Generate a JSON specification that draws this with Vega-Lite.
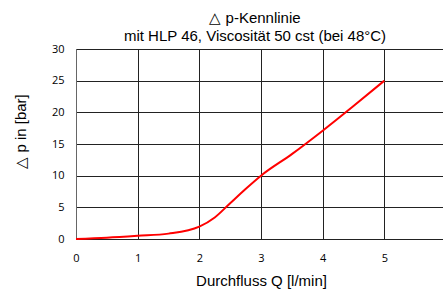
{
  "$schema": "https://vega.github.io/schema/vega-lite/v6.json",
  "autosize": "none",
  "width": 370,
  "height": 190,
  "padding": {"left": 76, "top": 49, "right": 10, "bottom": 51},
  "background": "white",
  "title": {
    "text": "△ p-Kennlinie",
    "subtitle": "mit HLP 46, Viscosität 50 cst (bei 48°C)",
    "font": "Liberation Sans",
    "fontSize": 15,
    "fontWeight": "normal",
    "color": "#000",
    "subtitleFont": "Liberation Sans",
    "subtitleFontSize": 15,
    "subtitleColor": "#000",
    "subtitlePadding": 3,
    "offset": -1,
    "dx": -6,
    "anchor": "middle"
  },
  "data": {
    "values": [
      {"q": 0, "dp": 0},
      {"q": 0.5, "dp": 0.2},
      {"q": 1, "dp": 0.5},
      {"q": 1.5, "dp": 0.85},
      {"q": 2, "dp": 1.95},
      {"q": 2.25, "dp": 3.4},
      {"q": 2.5, "dp": 5.65},
      {"q": 2.75, "dp": 7.9},
      {"q": 3, "dp": 10},
      {"q": 3.5, "dp": 13.4},
      {"q": 4, "dp": 17.1},
      {"q": 4.5, "dp": 21},
      {"q": 5, "dp": 25}
    ]
  },
  "mark": {"type": "line", "color": "#ff0000", "strokeWidth": 2, "interpolate": "monotone", "clip": false},
  "encoding": {
    "x": {
      "field": "q",
      "type": "quantitative",
      "scale": {"domain": [0, 6], "nice": false},
      "axis": {
        "title": "Durchfluss Q [l/min]",
        "values": [0, 1, 2, 3, 4, 5, 6],
        "grid": true,
        "gridColor": "#222",
        "gridOpacity": 1,
        "gridWidth": 1,
        "domain": true,
        "domainColor": "#222",
        "ticks": false,
        "labelFlush": false,
        "labelPadding": 13,
        "labelFont": "Open Sans",
        "labelFontSize": 11,
        "labelColor": "#000",
        "titleFont": "Liberation Sans",
        "titleFontSize": 15,
        "titleFontWeight": "normal",
        "titleColor": "#000",
        "titlePadding": 10
      }
    },
    "y": {
      "field": "dp",
      "type": "quantitative",
      "scale": {"domain": [0, 30], "nice": false},
      "axis": {
        "title": "△ p in  [bar]",
        "values": [0, 5, 10, 15, 20, 25, 30],
        "grid": true,
        "gridColor": "#222",
        "gridOpacity": 1,
        "gridWidth": 1,
        "domain": true,
        "domainColor": "#666",
        "ticks": false,
        "labelFlush": false,
        "labelPadding": 12,
        "labelFont": "Open Sans",
        "labelFontSize": 11,
        "labelColor": "#000",
        "titleFont": "Liberation Sans",
        "titleFontSize": 15,
        "titleFontWeight": "normal",
        "titleColor": "#000",
        "titlePadding": 23,
        "titleY": 82
      }
    }
  },
  "config": {"view": {"stroke": null}}
}
